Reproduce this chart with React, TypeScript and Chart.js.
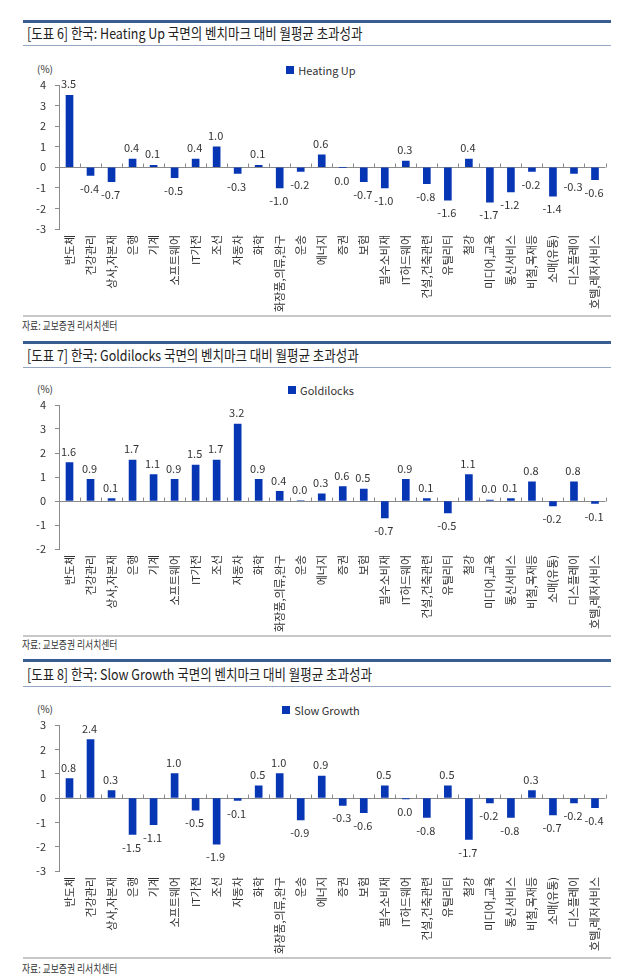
import React, { useEffect, useRef } from "react";
import { Chart, registerables } from "chart.js";

Chart.register(...registerables);

const categories = [
  "반도체", "건강관리", "상사,자본재", "은행", "기계", "소프트웨어", "IT가전", "조선", "자동차", "화학",
  "화장품,의류,완구", "운송", "에너지", "증권", "보험", "필수소비재", "IT하드웨어", "건설,건축관련", "유틸리티", "철강",
  "미디어,교육", "통신서비스", "비철,목재등", "소매(유통)", "디스플레이", "호텔,레저서비스",
];

const heatingUp = [3.5, -0.4, -0.7, 0.4, 0.1, -0.5, 0.4, 1.0, -0.3, 0.1, -1.0, -0.2, 0.6, -0.02, -0.7, -1.0, 0.3, -0.8, -1.6, 0.4, -1.7, -1.2, -0.2, -1.4, -0.3, -0.6];
const goldilocks = [1.6, 0.9, 0.1, 1.7, 1.1, 0.9, 1.5, 1.7, 3.2, 0.9, 0.4, 0.02, 0.3, 0.6, 0.5, -0.7, 0.9, 0.1, -0.5, 1.1, 0.04, 0.1, 0.8, -0.2, 0.8, -0.1];
const slowGrowth = [0.8, 2.4, 0.3, -1.5, -1.1, 1.0, -0.5, -1.9, -0.1, 0.5, 1.0, -0.9, 0.9, -0.3, -0.6, 0.5, -0.04, -0.8, 0.5, -1.7, -0.2, -0.8, 0.3, -0.7, -0.2, -0.4];

const heatingRange = [-3, 4];
const goldilocksRange = [-2, 4];
const slowGrowthRange = [-3, 3];

const titles = [
  "[도표 6] 한국: Heating Up 국면의 벤치마크 대비 월평균 초과성과",
  "[도표 7] 한국: Goldilocks 국면의 벤치마크 대비 월평균 초과성과",
  "[도표 8] 한국: Slow Growth 국면의 벤치마크 대비 월평균 초과성과",
];
const seriesNames = ["Heating Up", "Goldilocks", "Slow Growth"];
const sourceText = "자료: 교보증권 리서치센터";
const unitText = "(%)";

const BAR_COLOR = "#0636b4";
const FONT = "'Noto Sans CJK KR', 'Noto Sans', sans-serif";
const TEXT = "#333333";
const AXIS = "#8a8a8a";
const AXIS_H = 84;
const PAD_TOP = 20;

const zeroTicks = {
  id: "zeroTicks",
  beforeDatasetsDraw(chart: any) {
    const { ctx, scales } = chart;
    const x = scales.x;
    const y = scales.y;
    const y0 = Math.round(y.getPixelForValue(0)) + 0.5;
    const n = chart.data.labels.length;
    const step = x.getPixelForValue(1) - x.getPixelForValue(0);
    ctx.save();
    ctx.strokeStyle = AXIS;
    ctx.lineWidth = 1;
    for (let i = 1; i <= n; i++) {
      const px = Math.round(x.getPixelForValue(i - 1) + step / 2) + 0.5;
      ctx.beginPath();
      ctx.moveTo(px, y0);
      ctx.lineTo(px, y0 - 4);
      ctx.stroke();
    }
    ctx.restore();
  },
};

const valueLabels = {
  id: "valueLabels",
  afterDatasetsDraw(chart: any) {
    const { ctx } = chart;
    const meta = chart.getDatasetMeta(0);
    const data = chart.data.datasets[0].data as number[];
    ctx.save();
    ctx.font = `11px ${FONT}`;
    ctx.fillStyle = TEXT;
    ctx.textAlign = "center";
    ctx.textBaseline = "middle";
    meta.data.forEach((el: any, i: number) => {
      const v = data[i];
      const txt = Math.abs(v) < 0.05 ? "0.0" : v.toFixed(1);
      const ty = v >= 0 ? el.y - 11 : el.y + 13;
      ctx.fillText(txt, el.x - 1, ty);
    });
    ctx.restore();
  },
};

type ChartProps = {
  values: number[];
  range: number[];
  label: string;
  plotTop: number;
  plotBottom: number;
};

function BarChart({ values, range, label, plotTop, plotBottom }: ChartProps) {
  const ref = useRef<HTMLCanvasElement>(null);
  const canvasTop = plotTop - PAD_TOP;
  const height = plotBottom - canvasTop + AXIS_H;

  useEffect(() => {
    if (!ref.current) return;
    const chart = new Chart(ref.current, {
      type: "bar",
      data: {
        labels: categories,
        datasets: [
          {
            label,
            data: values,
            backgroundColor: BAR_COLOR,
            borderWidth: 0,
            barThickness: 7,
          },
        ],
      },
      options: {
        responsive: false,
        animation: false,
        devicePixelRatio: 1,
        layout: { padding: { top: PAD_TOP, right: 34.5, left: 0, bottom: 0 } },
        plugins: { legend: { display: false }, tooltip: { enabled: false } },
        scales: {
          x: {
            offset: true,
            grid: { display: false, drawTicks: false },
            border: { display: false },
            ticks: {
              autoSkip: false,
              maxRotation: 90,
              minRotation: 90,
              padding: 6,
              color: TEXT,
              font: { family: FONT, size: 11 },
            },
            afterFit: (s: any) => {
              s.height = AXIS_H;
            },
          },
          y: {
            min: range[0],
            max: range[1],
            ticks: {
              stepSize: 1,
              padding: 9,
              color: TEXT,
              font: { family: FONT, size: 11 },
            },
            grid: {
              drawOnChartArea: true,
              drawTicks: true,
              tickLength: 4,
              color: (c: any) => (c.tick && c.tick.value === 0 ? AXIS : "rgba(0,0,0,0)"),
              tickColor: AXIS,
            },
            border: { display: true, color: AXIS },
            afterFit: (s: any) => {
              s.width = 59;
            },
          },
        },
      },
      plugins: [zeroTicks, valueLabels],
    });
    return () => chart.destroy();
  }, []);

  return (
    <canvas
      ref={ref}
      width={640}
      height={height}
      style={{ position: "absolute", left: 0, top: canvasTop, width: 640, height, display: "block" }}
    />
  );
}

type SectionProps = {
  title: string;
  series: string;
  values: number[];
  range: number[];
  blueY: number;
  titleY: number;
  thinY: number;
  unitY: number;
  plotTop: number;
  plotBottom: number;
  srcLineY: number;
  srcTextY: number;
};

function Section(p: SectionProps) {
  return (
    <>
      <div style={{ position: "absolute", left: 23, top: p.blueY - 1, width: 588, height: 3, background: "#3a5d8f" }} />
      <div
        style={{
          position: "absolute",
          left: 27,
          top: p.titleY - 10,
          height: 20,
          lineHeight: "20px",
          fontSize: 14.5,
          fontFamily: FONT,
          color: "#222",
          whiteSpace: "nowrap",
          transform: "scaleX(0.86)",
          transformOrigin: "left center",
        }}
      >
        {p.title}
      </div>
      <div style={{ position: "absolute", left: 23, top: p.thinY, width: 588, height: 1, background: "#95a7c4" }} />
      <div
        style={{
          position: "absolute",
          left: 37,
          top: p.unitY - 8,
          height: 16,
          lineHeight: "16px",
          fontSize: 10,
          fontFamily: FONT,
          color: TEXT,
        }}
      >
        {unitText}
      </div>
      <div
        style={{
          position: "absolute",
          left: 0,
          width: 642,
          top: p.unitY - 7,
          height: 16,
          display: "flex",
          justifyContent: "center",
          alignItems: "center",
          fontSize: 11,
          fontFamily: FONT,
          color: TEXT,
        }}
      >
        <span style={{ display: "inline-block", width: 8, height: 8, background: BAR_COLOR, marginRight: 4 }} />
        <span style={{ lineHeight: "16px" }}>{p.series}</span>
      </div>
      <BarChart values={p.values} range={p.range} label={p.series} plotTop={p.plotTop} plotBottom={p.plotBottom} />
      <div style={{ position: "absolute", left: 23, top: p.srcLineY, width: 588, height: 2, background: "#c8c8c8" }} />
      <div
        style={{
          position: "absolute",
          left: 22,
          top: p.srcTextY - 8,
          height: 16,
          lineHeight: "16px",
          fontSize: 11,
          fontFamily: FONT,
          color: TEXT,
          whiteSpace: "nowrap",
          transform: "scaleX(0.8)",
          transformOrigin: "left center",
        }}
      >
        {sourceText}
      </div>
    </>
  );
}

export default function App() {
  return (
    <div style={{ position: "absolute", left: 0, top: 0, width: 640, height: 978, background: "#fff", overflow: "hidden" }}>
      <Section
        title={titles[0]}
        series={seriesNames[0]}
        values={heatingUp}
        range={heatingRange}
        blueY={21}
        titleY={33}
        thinY={45}
        unitY={69}
        plotTop={85}
        plotBottom={229}
        srcLineY={315}
        srcTextY={325}
      />
      <Section
        title={titles[1]}
        series={seriesNames[1]}
        values={goldilocks}
        range={goldilocksRange}
        blueY={342}
        titleY={355}
        thinY={367}
        unitY={389}
        plotTop={405}
        plotBottom={549}
        srcLineY={635}
        srcTextY={644}
      />
      <Section
        title={titles[2]}
        series={seriesNames[2]}
        values={slowGrowth}
        range={slowGrowthRange}
        blueY={660}
        titleY={674}
        thinY={686}
        unitY={709}
        plotTop={725}
        plotBottom={871}
        srcLineY={957}
        srcTextY={968}
      />
    </div>
  );
}
